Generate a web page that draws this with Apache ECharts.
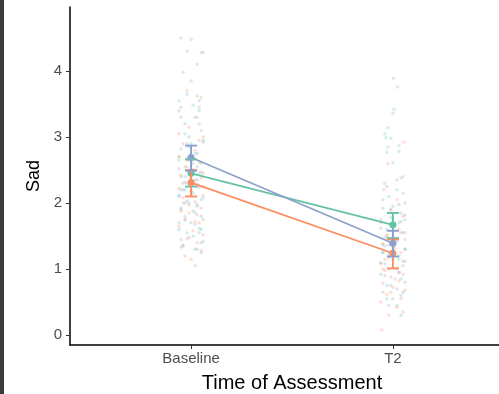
<!DOCTYPE html>
<html>
<head>
<meta charset="utf-8">
<script src="https://cdn.jsdelivr.net/npm/echarts@6/dist/echarts.min.js"></script>
<style>
  html, body { margin: 0; padding: 0; background: #fff; overflow: hidden; }
  #strip { position: fixed; left: 0; top: 0; width: 4px; height: 394px; background: #3b3b3b; z-index: 2; }
  #chart { position: fixed; left: 0; top: 0; width: 499px; height: 394px; }
</style>
</head>
<body>
<div id="strip"></div>
<div id="chart"></div>
<script>
// category positions on the x value axis
const TIMES = ["Baseline", "T2"];
const GROUPS = ["g1", "g2", "g3"];
const COLORS = ["#66c2a5", "#fc8d62", "#8da0cb"];
const Y_TICKS = [0, 1, 2, 3, 4];

// means and CI per group: [Baseline, T2]
const MEANS = [[2.45, 1.67], [2.31, 1.24], [2.69, 1.39]];
const LOWS = [[2.25, 1.47], [2.10, 1.01], [2.49, 1.19]];
const HIGHS = [[2.66, 1.85], [2.50, 1.45], [2.87, 1.58]];

// raw jittered points: [x offset from category, value]
const g1Base = [[-0.02,4.3],[0.05,4.28],[-0.04,3.98],[0.03,3.62],[-0.06,3.55],[0.01,3.48],[-0.05,3.3],[0.04,3.2],[-0.03,3.05],[0.06,2.95],[-0.01,2.85],[0.02,2.75],[-0.06,2.65],[0.05,2.6],[-0.03,2.55],[0.0,2.5],[0.04,2.45],[-0.05,2.4],[0.03,2.35],[-0.02,2.3],[0.06,2.25],[-0.04,2.2],[0.01,2.15],[-0.06,2.1],[0.05,2.05],[-0.01,2.0],[0.03,1.95],[-0.05,1.9],[0.02,1.85],[-0.03,1.8],[0.06,1.75],[-0.06,1.7],[0.04,1.62],[-0.02,1.55],[0.01,1.5],[-0.05,1.45],[0.05,1.4],[-0.04,1.35],[0.03,1.3],[0.02,1.05],[-0.06,2.7],[0.0,2.9],[0.04,3.4],[-0.03,2.2],[0.05,1.6]];
const g2Base = [[0.06,4.28],[-0.02,3.7],[0.05,3.6],[-0.05,3.45],[0.03,3.3],[-0.01,3.15],[0.06,3.0],[-0.04,2.9],[0.02,2.8],[-0.06,2.7],[0.04,2.62],[-0.02,2.55],[0.01,2.5],[-0.05,2.42],[0.05,2.38],[-0.03,2.32],[0.03,2.28],[-0.06,2.22],[0.0,2.18],[0.06,2.12],[-0.04,2.08],[0.02,2.02],[-0.01,1.97],[0.05,1.92],[-0.05,1.88],[0.03,1.82],[-0.03,1.76],[0.04,1.7],[-0.06,1.65],[0.01,1.58],[0.06,1.52],[-0.02,1.46],[0.03,1.4],[-0.05,1.33],[0.05,1.28],[-0.03,1.2],[0.0,1.15],[0.04,2.95],[-0.02,2.65],[0.06,2.45],[-0.04,2.0],[0.02,1.72],[-0.06,3.05],[0.03,2.25],[-0.01,1.85]];
const g3Base = [[-0.05,4.5],[0.0,4.48],[0.03,4.1],[0.0,3.85],[-0.02,3.65],[0.04,3.55],[-0.06,3.4],[0.02,3.3],[-0.03,3.2],[0.05,3.1],[-0.01,3.0],[0.06,2.92],[-0.05,2.82],[0.03,2.75],[-0.02,2.68],[0.01,2.6],[-0.06,2.52],[0.05,2.47],[-0.03,2.4],[0.02,2.35],[-0.04,2.3],[0.04,2.24],[0.0,2.18],[-0.06,2.12],[0.06,2.08],[-0.02,2.03],[0.03,1.98],[-0.05,1.93],[0.01,1.88],[0.05,1.8],[-0.03,1.74],[0.02,1.68],[-0.06,1.6],[0.04,1.55],[-0.01,1.48],[0.06,1.42],[-0.04,1.36],[0.02,1.3],[0.05,1.25],[-0.02,2.9],[0.03,2.55],[-0.05,2.2],[0.0,1.7],[0.04,3.45],[-0.03,2.0]];
const g1T2 = [[0.003,3.89],[0.023,3.76],[0.005,3.42],[0.0,3.36],[-0.025,3.14],[-0.04,3.05],[-0.035,2.99],[-0.01,2.98],[-0.025,2.85],[0.03,2.87],[-0.03,2.77],[0.03,2.78],[0.0,2.61],[0.05,2.4],[-0.04,2.3],[0.02,2.2],[-0.02,2.1],[0.06,2.0],[-0.05,1.92],[0.04,1.85],[-0.01,1.78],[0.03,1.7],[-0.06,1.62],[0.05,1.55],[-0.03,1.5],[0.01,1.45],[-0.05,1.38],[0.06,1.3],[-0.02,1.22],[0.03,1.15],[-0.04,1.08],[0.02,1.0],[-0.06,0.92],[0.04,0.85],[-0.01,0.75],[0.05,0.65],[-0.03,0.55],[0.02,0.45],[-0.05,1.25],[0.06,1.75],[0.0,1.95],[0.04,0.3]];
const g2T2 = [[0.055,2.92],[-0.025,2.6],[0.04,2.38],[-0.045,2.2],[0.02,2.05],[-0.01,1.9],[0.05,1.8],[-0.06,1.7],[0.03,1.6],[-0.03,1.52],[0.06,1.45],[-0.05,1.38],[0.01,1.32],[0.04,1.25],[-0.02,1.18],[0.06,1.12],[-0.06,1.08],[0.02,1.02],[-0.04,0.98],[0.05,0.92],[-0.01,0.88],[0.03,0.82],[-0.05,0.78],[0.0,0.72],[0.06,0.68],[-0.03,0.62],[0.04,0.55],[-0.06,0.5],[0.02,0.42],[0.05,0.35],[-0.02,0.3],[-0.055,0.08],[0.0,1.4],[-0.04,1.15],[0.03,0.95],[-0.01,0.65],[0.06,1.55],[-0.05,1.0]];
const g3T2 = [[0.02,2.35],[-0.03,2.25],[0.05,2.15],[-0.05,2.05],[0.03,1.98],[-0.01,1.9],[0.06,1.82],[-0.06,1.75],[0.01,1.68],[-0.03,1.6],[0.04,1.55],[-0.04,1.48],[0.02,1.42],[-0.02,1.36],[0.06,1.3],[-0.05,1.25],[0.03,1.2],[0.0,1.15],[-0.06,1.1],[0.05,1.05],[-0.02,1.0],[0.03,0.95],[-0.04,0.9],[0.01,0.85],[0.06,0.8],[-0.03,0.75],[0.02,0.7],[-0.05,0.65],[0.04,0.6],[0.0,0.55],[-0.02,0.45],[0.04,1.72],[-0.04,1.35],[0.05,1.12]];

const RAW = [[g1Base, g1T2], [g2Base, g2T2], [g3Base, g3T2]];

const chart = echarts.init(document.getElementById("chart"), null, { width: 499, height: 394 });

const series = [];

// jittered raw points first, underneath
RAW.forEach((pair, gi) => {
  const pts = [];
  pair.forEach((arr, ti) => arr.forEach(([dx, v]) => pts.push([ti + 1 + dx, v])));
  series.push({
    type: "scatter",
    data: pts,
    symbolSize: 3.5,
    itemStyle: { color: COLORS[gi], opacity: 0.28 },
    silent: true,
    z: 1,
  });
});

// mean lines + points
GROUPS.forEach((g, gi) => {
  series.push({
    type: "line",
    data: MEANS[gi].map((m, ti) => [ti + 1, m]),
    symbol: "circle",
    symbolSize: 7,
    lineStyle: { color: COLORS[gi], width: 1.7 },
    itemStyle: { color: COLORS[gi] },
    z: 3,
  });
});

// error bars
GROUPS.forEach((g, gi) => {
  series.push({
    type: "custom",
    data: LOWS[gi].map((lo, ti) => [ti + 1, lo, HIGHS[gi][ti]]),
    renderItem: (params, api) => {
      const lo = api.coord([api.value(0), api.value(1)]);
      const hi = api.coord([api.value(0), api.value(2)]);
      const hw = 6;
      const style = { stroke: COLORS[gi], lineWidth: 1.9 };
      return {
        type: "group",
        children: [
          { type: "line", shape: { x1: lo[0], y1: lo[1], x2: hi[0], y2: hi[1] }, style },
          { type: "line", shape: { x1: lo[0] - hw, y1: lo[1], x2: lo[0] + hw, y2: lo[1] }, style },
          { type: "line", shape: { x1: hi[0] - hw, y1: hi[1], x2: hi[0] + hw, y2: hi[1] }, style },
        ],
      };
    },
    z: 4,
  });
});

chart.setOption({
  animation: false,
  backgroundColor: "#fff",
  grid: { left: 70, top: 7, width: 444, height: 338, outerBoundsMode: "none", containLabel: false },
  xAxis: {
    type: "value",
    min: 0.4,
    max: 2.6,
    name: "Time of Assessment",
    nameLocation: "middle",
    nameGap: 28,
    nameTextStyle: { color: "#000", fontSize: 20, fontFamily: "Liberation Sans" },
    axisLine: { onZero: false, lineStyle: { color: "#000", width: 1.5 } },
    axisTick: { show: true, length: 4, customValues: [1, 2], lineStyle: { color: "#333" } },
    axisLabel: {
      customValues: [1, 2],
      formatter: (v) => TIMES[Math.round(v) - 1],
      color: "#4d4d4d",
      fontSize: 15,
      fontFamily: "Liberation Sans",
      margin: 6,
    },
    splitLine: { show: false },
  },
  yAxis: {
    type: "value",
    min: -0.15,
    max: 4.97,
    name: "Sad",
    nameLocation: "middle",
    nameGap: 25,
    nameTextStyle: { color: "#000", fontSize: 18, fontFamily: "Liberation Sans" },
    axisLine: { show: true, onZero: false, lineStyle: { color: "#000", width: 1.5 } },
    axisTick: { show: true, length: 4, customValues: Y_TICKS, lineStyle: { color: "#333" } },
    axisLabel: {
      customValues: Y_TICKS,
      color: "#4d4d4d",
      fontSize: 15,
      fontFamily: "Liberation Sans",
      margin: 8,
    },
    splitLine: { show: false },
  },
  series,
});
</script>
</body>
</html>
